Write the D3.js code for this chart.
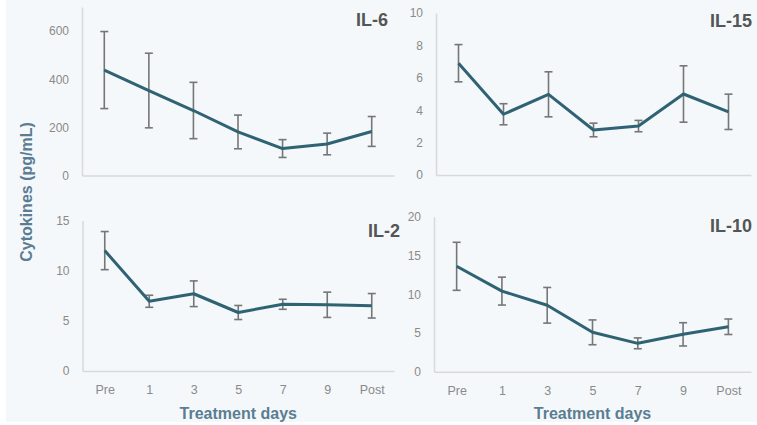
<!DOCTYPE html>
<html>
<head>
<meta charset="utf-8">
<script src="https://cdn.jsdelivr.net/npm/d3@7"></script>
<style>
  body { margin: 0; background: #fff; }
  text { font-family: "Liberation Sans", Arial, sans-serif; }
</style>
</head>
<body>
<div id="chart"></div>
<script>
const days = ['Pre', '1', '3', '5', '7', '9', 'Post']

const il6Mean = [438, 353, 270, 181, 112, 131, 183]
const il6Err = [160, 155, 117, 70, 37, 45, 62]
const il15Mean = [6.9, 3.75, 4.98, 2.78, 3.02, 5.0, 3.9]
const il15Err = [1.15, 0.65, 1.39, 0.42, 0.35, 1.74, 1.09]
const il2Mean = [12.0, 6.95, 7.7, 5.83, 6.65, 6.6, 6.5]
const il2Err = [1.9, 0.6, 1.28, 0.7, 0.5, 1.26, 1.22]
const il10Mean = [13.6, 10.4, 8.57, 5.08, 3.66, 4.82, 5.8]
const il10Err = [3.1, 1.8, 2.3, 1.6, 0.7, 1.5, 1.0]

const il6Ticks = [0, 200, 400, 600]
const il15Ticks = [0, 2, 4, 6, 8, 10]
const il2Ticks = [0, 5, 10, 15]
const il10Ticks = [0, 5, 10, 15, 20]

const W = 757, H = 425

const svg = d3.select('#chart').append('svg')
  .attr('width', W)
  .attr('height', H)

svg.append('rect')
  .attr('x', 6).attr('y', 0)
  .attr('width', W - 6).attr('height', 422)
  .attr('fill', '#f4f8fa')

// panel boxes: x0/x1 = x-axis extent, y0 = zero line, y1 = top of y axis
const panels = [
  { name: 'IL-6', mean: il6Mean, err: il6Err, ticks: il6Ticks, max: 700, x0: 82, x1: 394, y0: 175.5, y1: 7, tx: 388, ty: 26, labels: false },
  { name: 'IL-15', mean: il15Mean, err: il15Err, ticks: il15Ticks, max: 10, x0: 436, x1: 751, y0: 175, y1: 13, tx: 752, ty: 27, labels: false },
  { name: 'IL-2', mean: il2Mean, err: il2Err, ticks: il2Ticks, max: 15, x0: 82.5, x1: 394, y0: 371, y1: 220.5, tx: 400, ty: 237, labels: true },
  { name: 'IL-10', mean: il10Mean, err: il10Err, ticks: il10Ticks, max: 20, x0: 434, x1: 751, y0: 371.7, y1: 216.7, tx: 752, ty: 232, labels: true }
]

panels.forEach(p => {
  const g = svg.append('g')

  const x = d3.scalePoint()
    .domain(days)
    .range([p.x0, p.x1])
    .padding(0.5)

  const y = d3.scaleLinear()
    .domain([0, p.max])
    .range([p.y0, p.y1])

  const yAxis = g.append('g')
    .attr('transform', 'translate(' + p.x0 + ',0)')
    .call(d3.axisLeft(y).tickValues(p.ticks).tickSize(0).tickPadding(13).tickSizeOuter(0))
  yAxis.select('.domain').attr('stroke', '#d9d9d9').attr('stroke-width', 1.5)
  yAxis.selectAll('text').attr('fill', '#8a8a8a').style('font-size', '12px')

  const xAxis = g.append('g')
    .attr('transform', 'translate(0,' + p.y0 + ')')
    .call(d3.axisBottom(x).tickSize(0).tickPadding(14).tickSizeOuter(0)
      .tickFormat(d => p.labels ? d : ''))
  xAxis.select('.domain').attr('stroke', '#d9d9d9').attr('stroke-width', 1.5)
  xAxis.selectAll('text').attr('fill', '#8a8a8a').style('font-size', '12.5px')

  const rows = days.map((d, i) => ({ day: d, mean: p.mean[i], err: p.err[i] }))

  // error bars
  const eb = g.selectAll('g.err')
    .data(rows)
    .enter().append('g')
    .attr('class', 'err')
    .attr('stroke', '#767676')
    .attr('stroke-width', 1.6)

  eb.append('line')
    .attr('x1', d => x(d.day)).attr('x2', d => x(d.day))
    .attr('y1', d => y(d.mean - d.err)).attr('y2', d => y(d.mean + d.err))
  eb.append('line')
    .attr('x1', d => x(d.day) - 4).attr('x2', d => x(d.day) + 4)
    .attr('y1', d => y(d.mean + d.err)).attr('y2', d => y(d.mean + d.err))
  eb.append('line')
    .attr('x1', d => x(d.day) - 4).attr('x2', d => x(d.day) + 4)
    .attr('y1', d => y(d.mean - d.err)).attr('y2', d => y(d.mean - d.err))

  g.append('path')
    .datum(rows)
    .attr('fill', 'none')
    .attr('stroke', '#2f6374')
    .attr('stroke-width', 3)
    .attr('stroke-linejoin', 'round')
    .attr('d', d3.line().x(d => x(d.day)).y(d => y(d.mean)))

  g.append('text')
    .attr('x', p.tx).attr('y', p.ty)
    .attr('text-anchor', 'end')
    .attr('fill', '#555')
    .style('font-size', '18px')
    .style('font-weight', 'bold')
    .text(p.name)

  if (p.labels) {
    g.append('text')
      .attr('x', (p.x0 + p.x1) / 2)
      .attr('y', 419)
      .attr('text-anchor', 'middle')
      .attr('fill', '#5b7d93')
      .style('font-size', '16px')
      .style('font-weight', 'bold')
      .text('Treatment days')
  }
})

svg.append('text')
  .attr('transform', 'translate(32,192) rotate(-90)')
  .attr('text-anchor', 'middle')
  .attr('fill', '#5b7d93')
  .style('font-size', '16px')
  .style('font-weight', 'bold')
  .text('Cytokines (pg/mL)')
</script>
</body>
</html>
